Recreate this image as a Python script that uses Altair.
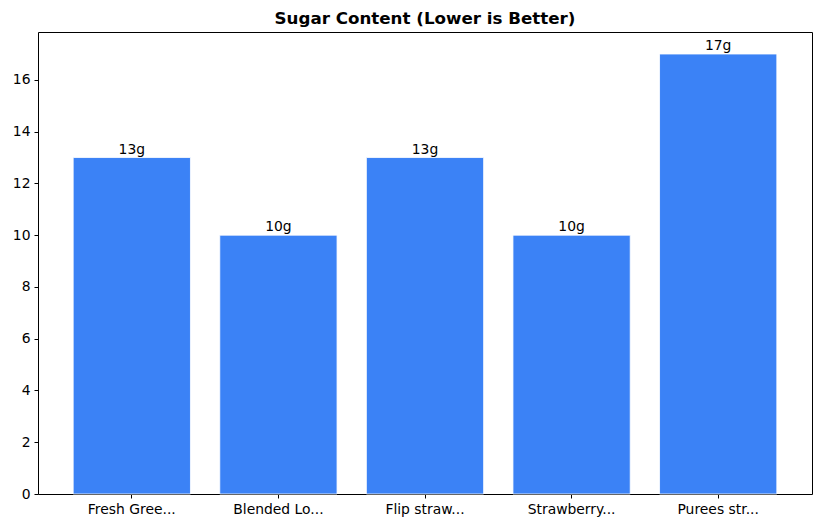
import altair as alt
import pandas as pd

products = ["Fresh Gree...", "Blended Lo...", "Flip straw...", "Strawberry...", "Purees str..."]
sugar = [13, 10, 13, 10, 17]
labels = ["13g", "10g", "13g", "10g", "17g"]

df = pd.DataFrame({"product": products, "sugar": sugar, "label": labels})

font = "DejaVu Sans"
fs = 13.9

x = alt.X("product:N", sort=products, title=None,
          scale=alt.Scale(paddingInner=0.2, paddingOuter=0.24),
          axis=alt.Axis(labelAngle=0, labelFontSize=fs, labelColor="black", labelFont=font,
                        tickColor="black", tickSize=4, domain=False, labelPadding=4, grid=False))
y = alt.Y("sugar:Q", title=None,
          scale=alt.Scale(domain=[0, 17.85], nice=False, zero=True),
          axis=alt.Axis(values=[0, 2, 4, 6, 8, 10, 12, 14, 16], labelFontSize=fs, labelColor="black",
                        labelFont=font, tickColor="black", tickSize=4, domain=False, grid=False,
                        labelPadding=4))

bars = alt.Chart(df).mark_bar(color="#3b82f6", stroke="white", strokeWidth=0.8).encode(x=x, y=y)
text = alt.Chart(df).mark_text(baseline="bottom", dy=-1, fontSize=fs, font=font, color="black").encode(
    x=alt.X("product:N", sort=products), y="sugar:Q", text="label:N")

chart = (bars + text).properties(
    width=774, height=462,
    title=alt.TitleParams("Sugar Content (Lower is Better)", font=font, fontSize=16.7, fontWeight="bold",
                          color="black", offset=4, anchor="middle"),
    autosize=alt.AutoSizeParams(type="none"),
    padding={"left": 30, "top": 24, "right": 2, "bottom": 24},
).configure_view(stroke="black", strokeWidth=1)

chart.save("out.html", embed_options={"renderer": "svg", "actions": False})
